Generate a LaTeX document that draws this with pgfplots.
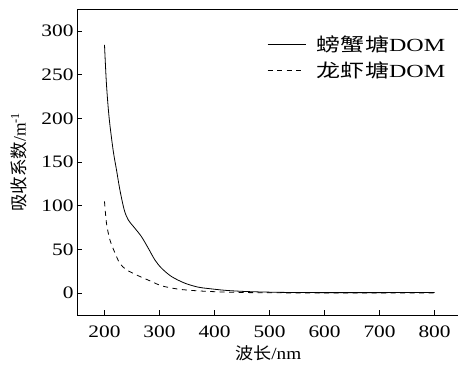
\documentclass[border=0pt]{standalone}
\usepackage{pgfplots}
\pgfplotsset{compat=1.18}
\usepackage{fontspec}
\setmainfont{Liberation Serif}
\newfontfamily\cjk{Noto Sans CJK SC}
\newfontfamily\ticksfont{Liberation Serif}[FakeStretch=1.22]
\newfontfamily\labfont{Liberation Serif}[FakeStretch=1.13]
\newfontfamily\labcjk{Noto Sans CJK SC}[FakeStretch=1.1]
\newfontfamily\legfont{Liberation Serif}[FakeStretch=1.3]
\newfontfamily\legcjk{Noto Sans CJK SC}[FakeStretch=1.3]
\begin{document}
\begin{tikzpicture}
\begin{axis}[
  at={(0,0)}, anchor=south west,
  scale only axis,
  width=390pt, height=306pt,
  xmin=150, xmax=859,
  ymin=-25, ymax=325,
  xtick={200,300,...,800},
  ytick={0,50,...,300},
  tick align=inside,
  xtick pos=bottom, ytick pos=left,
  major tick length=5pt,
  tick style={black, line width=0.7pt},
  axis line style={line width=0.9pt},
  /pgf/number format/assume math mode=true,
  tick label style={font=\ticksfont\fontsize{17.5}{20}\selectfont},
  xticklabel style={yshift=-7pt},
  xlabel={\labcjk\fontsize{16.5}{19}\selectfont 波长\labfont\fontsize{17}{19}\selectfont/nm},
  ylabel={\cjk\fontsize{17.5}{19}\selectfont 吸收系数\rmfamily\fontsize{17.5}{19}\selectfont/m\textsuperscript{-1}},
  xlabel style={at={(axis description cs:0.49,-0.124)}, anchor=center},
  ylabel style={at={(axis description cs:-0.149,0.5)}, anchor=center},
  legend style={draw=none, fill=none, inner sep=0pt, at={(0.487,0.92)}, anchor=north west,
    font=\fontsize{18.5}{20}\selectfont, row sep=5pt},
  legend cell align=left,
  legend image code/.code={\draw[#1] (0pt,0pt) -- (38pt,0pt); \path (47pt,0pt);},
]
\addplot[black, line width=0.8pt, smooth] coordinates {
(200,284) (203.6,238.6) (208.5,200) (215.8,163) (221.8,141) (228,118) (235.8,95.4)
(243,84) (255,74.4) (267,64.8) (279.5,51.5) (291.6,38) (303.6,28.6) (321.8,19)
(346,11.4) (370,6.9) (388.5,5.3) (420,3.2) (460,1.8) (520,0.9) (600,0.6) (700,0.6) (800,0.8)};
\addlegendentry{\legcjk 螃蟹塘\legfont DOM}
\addplot[black, line width=0.8pt, dash pattern=on 5pt off 4.5pt, smooth] coordinates {
(200,105) (203.6,80) (209.8,61) (219,46) (228,34) (240,26.7) (261,20) (285.5,13.3)
(303.6,8.4) (334,4.6) (370,2.6) (420,1.2) (480,0.5) (600,0.2) (700,0.2) (800,0.2)};
\addlegendentry{\legcjk 龙虾塘\legfont DOM}
\end{axis}
\pgfresetboundingbox
\path (-77pt,-52pt) rectangle (381pt,315pt);
\end{tikzpicture}
\end{document}
